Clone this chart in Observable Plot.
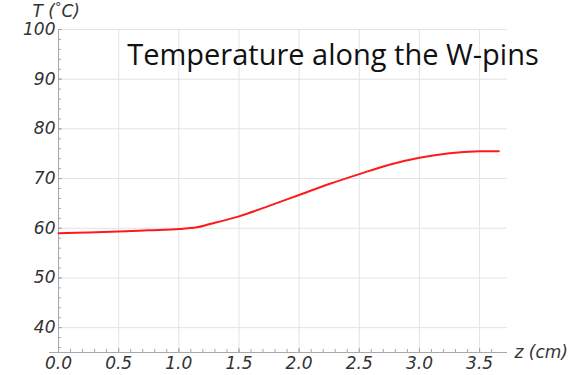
<!DOCTYPE html>
<html>
<head>
<meta charset="utf-8">
<script src="https://cdn.jsdelivr.net/npm/d3@7"></script>
<script src="https://cdn.jsdelivr.net/npm/@observablehq/plot@0.6"></script>
<style>
  html, body { margin: 0; padding: 0; background: #fff; }
  #chart svg { display: block; }
</style>
</head>
<body>
<div id="chart"></div>
<script>
// Data
const zValues = [0, 0.25, 0.5, 0.75, 1.0, 1.15, 1.25, 1.5, 1.75, 2.0, 2.25, 2.5, 2.75, 3.0, 3.25, 3.5, 3.66];
const tValues = [59.0, 59.15, 59.35, 59.6, 59.85, 60.2, 60.8, 62.4, 64.5, 66.7, 68.9, 70.9, 72.8, 74.2, 75.1, 75.5, 75.5];
const xTicks = [0, 0.5, 1.0, 1.5, 2.0, 2.5, 3.0, 3.5];
const xTickLabels = ["0.0", "0.5", "1.0", "1.5", "2.0", "2.5", "3.0", "3.5"];
const yTicks = [40, 50, 60, 70, 80, 90, 100];
const xMinor = d3.range(0, 37).map(i => i / 10);
const yMinor = d3.range(36, 101, 2);
const title = "Temperature along the W-pins";
const xLabel = "z (cm)";
const yLabel = "T (°C)";

const data = zValues.map((z, i) => ({z, t: tValues[i]}));

const gridColor = "#e3e3e3";
const axisColor = "#a8a8a8";
const labelFont = "DejaVu Sans";

const chart = Plot.plot({
  width: 572,
  height: 375,
  marginLeft: 58,
  marginRight: 65,
  marginTop: 29,
  marginBottom: 23,
  style: {fontFamily: labelFont, background: "#fff", overflow: "visible"},
  x: {domain: [0, 3.732], label: null},
  y: {domain: [35, 100], label: null},
  marks: [
    Plot.gridX(xTicks, {stroke: gridColor, strokeOpacity: 1, strokeWidth: 1}),
    Plot.gridY(yTicks, {stroke: gridColor, strokeOpacity: 1, strokeWidth: 1}),
    // minor ticks (inside)
    Plot.axisX(xMinor, {tickSize: -3, text: null, stroke: axisColor, strokeWidth: 1, label: null}),
    Plot.axisY(yMinor, {tickSize: -3, text: null, stroke: axisColor, strokeWidth: 1, label: null}),
    // major ticks + labels
    Plot.axisX(xTicks, {tickSize: -4, stroke: axisColor, tickPadding: 8, tickFormat: (d, i) => xTickLabels[i], fontSize: 17, fontStyle: "italic", fill: "#333", label: null}),
    Plot.axisY(yTicks, {tickSize: -4, stroke: axisColor, tickPadding: 7, fontSize: 17, fontStyle: "italic", fill: "#333", label: null}),
    Plot.ruleY([35], {stroke: axisColor, insetLeft: -9}),
    Plot.ruleX([0], {stroke: axisColor}),
    Plot.line(data, {x: "z", y: "t", stroke: "#ff1a1a", strokeWidth: 2, curve: "catmull-rom"}),
    Plot.text([title], {frameAnchor: "top", dx: 50, dy: 26, text: d => d, fontSize: 29, fontFamily: "Open Sans", fill: "#111", lineAnchor: "middle"}),
    Plot.text([xLabel], {frameAnchor: "bottom-right", dx: 7, dy: 0, text: d => d, fontSize: 17, fontStyle: "italic", fill: "#333", textAnchor: "start", lineAnchor: "middle"}),
    Plot.text([yLabel], {frameAnchor: "top-left", dx: -26, dy: -18, text: d => d, fontSize: 17, fontStyle: "italic", fill: "#333", textAnchor: "start", lineAnchor: "middle"})
  ]
});

document.getElementById("chart").appendChild(chart);

// raise the degree sign as a superscript
chart.querySelectorAll("text").forEach(t => {
  if (t.textContent === yLabel) {
    t.textContent = "";
    const parts = [["T (", 0], ["°", -6], ["C)", 6]];
    parts.forEach(([s, dy]) => {
      const ts = document.createElementNS("http://www.w3.org/2000/svg", "tspan");
      ts.setAttribute("dy", dy);
      if (s === "°") ts.setAttribute("font-size", "13");
      ts.textContent = s;
      t.appendChild(ts);
    });
  }
});
</script>
</body>
</html>
